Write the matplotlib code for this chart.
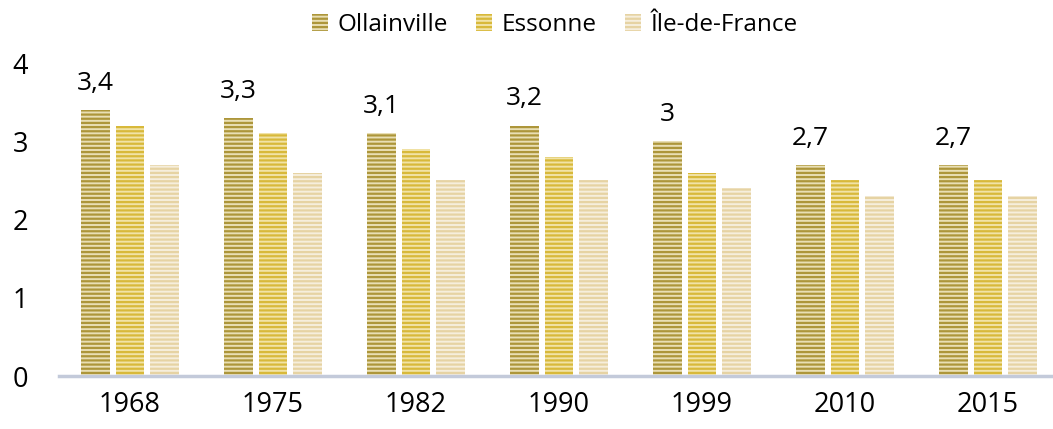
import matplotlib
matplotlib.use("Agg")
import matplotlib.pyplot as plt
import numpy as np

years = ["1968", "1975", "1982", "1990", "1999", "2010", "2015"]
ollainville = [3.4, 3.3, 3.1, 3.2, 3.0, 2.7, 2.7]
essonne = [3.2, 3.1, 2.9, 2.8, 2.6, 2.5, 2.5]
idf = [2.7, 2.6, 2.5, 2.5, 2.4, 2.3, 2.3]
series_names = ["Ollainville", "Essonne", "Île-de-France"]

plt.rcParams['font.family'] = ['Open Sans', 'DejaVu Sans']
plt.rcParams['hatch.linewidth'] = 1.6

fig = plt.figure(figsize=(10.53, 4.29), dpi=100)
ax = fig.add_axes([58.5 / 1053, 0.1235, 1001 / 1053, 0.7296])

x = np.arange(len(years))
w = 0.2
pitch = 0.241
styles = [
    dict(face="#E9DFB4", hatch_col="#AD963A"),
    dict(face="#F1E3A6", hatch_col="#D8B93A"),
    dict(face="#F6EEDC", hatch_col="#E6D3A3"),
]
data = [ollainville, essonne, idf]
handles = []
for i, (vals, st, name) in enumerate(zip(data, styles, series_names)):
    bars = ax.bar(x + (i - 1) * pitch, vals, width=w, color=st["face"],
                  edgecolor=st["hatch_col"], hatch="----", linewidth=0, label=name)
    handles.append(bars)

for xi, v in zip(x - pitch, ollainville):
    lab = ("%g" % v).replace(".", ",")
    ax.annotate(lab, (xi, v), xytext=(0, 14.5), textcoords="offset points",
                ha="center", va="baseline", fontsize=19)

ax.set_xlim(-0.5, len(years) - 0.5)
ax.set_ylim(0, 4)
ax.set_yticks([0, 1, 2, 3, 4])
ax.set_xticks(x)
ax.set_xticklabels(years)
ax.tick_params(axis="both", length=0, labelsize=19.5)
ax.tick_params(axis="x", pad=11)
ax.tick_params(axis="y", pad=22)
for s in ["top", "right", "left"]:
    ax.spines[s].set_visible(False)
ax.spines["bottom"].set_color("#C3CADA")
ax.spines["bottom"].set_linewidth(2.5)

fig.legend(handles=handles, labels=series_names, loc="center",
           bbox_to_anchor=(0.527, 1 - 25 / 429), ncol=3, frameon=False, fontsize=17.5,
           handlelength=0.65, handleheight=0.65, handletextpad=0.4, columnspacing=1.15,
           borderpad=0)

fig.savefig("out.png", dpi=100)
